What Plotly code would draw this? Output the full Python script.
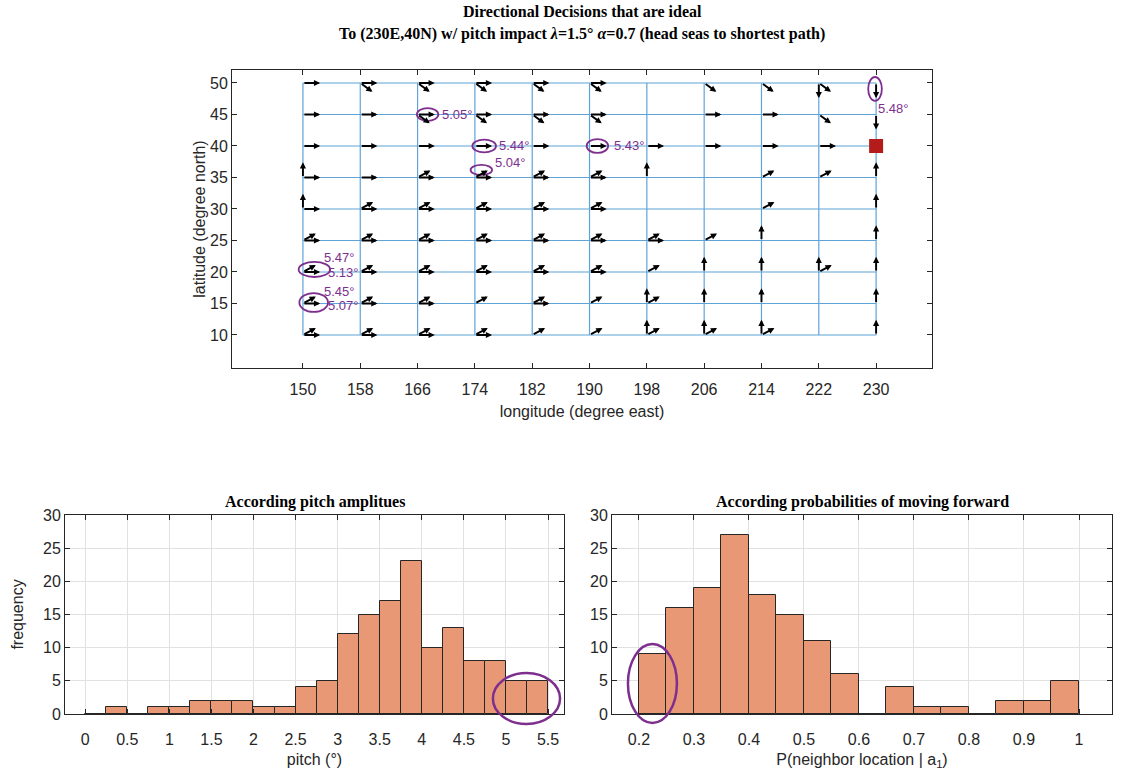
import plotly.graph_objects as go

# ---------------- data ----------------
lons = [150, 158, 166, 174, 182, 190, 198, 206, 214, 222, 230]
lats = [50, 45, 40, 35, 30, 25, 20, 15, 10]
# ideal decisions at every grid node (rows = lats, cols = lons)
decisions = [
    ["E", "E,SE", "E,SE", "E,SE", "E,SE", "E,SE", "", "SE", "SE", "S,SE", "S"],
    ["E", "E", "E,SE", "E,SE", "E,SE", "E,SE", "", "E", "E", "SE", "S"],
    ["E", "E", "E", "E", "E", "E", "E", "E", "E", "E", ""],
    ["N,E", "E", "E,NE", "E,NE", "E,NE", "E,NE", "N", "", "NE", "NE", "N"],
    ["N,E", "E,NE", "E,NE", "E,NE", "E,NE", "E,NE", "", "", "NE", "", "N"],
    ["E,NE", "E,NE", "E,NE", "E,NE", "E,NE", "E,NE", "E,NE", "NE", "N", "", "N"],
    ["E,NE", "E,NE", "E,NE", "E,NE", "E,NE", "E,NE", "NE", "N", "N", "N,NE", "N"],
    ["E,NE", "E,NE", "E,NE", "NE", "E,NE", "NE", "N,NE", "N", "N", "", "N"],
    ["E,NE", "E,NE", "E,NE", "E,NE", "NE", "NE", "N,NE", "N,NE", "N,NE", "", "N"],
]
destination = (230, 40)

# highlighted nodes: (lon, lat) and their pitch labels
highlight_nodes = [(166, 45), (174, 40), (174, 35), (190, 40), (230, 50), (150, 20), (150, 15)]
pitch_labels = [
    (166, 45, "5.05°"), (174, 40, "5.44°"), (174, 35, "5.04°"), (190, 40, "5.43°"),
    (230, 50, "5.48°"), (150, 20, "5.47°"), (150, 20, "5.13°"), (150, 15, "5.45°"),
    (150, 15, "5.07°"),
]

pitch_bin_edges = [0, 0.25, 0.5, 0.75, 1, 1.25, 1.5, 1.75, 2, 2.25, 2.5, 2.75, 3,
                   3.25, 3.5, 3.75, 4, 4.25, 4.5, 4.75, 5, 5.25, 5.5]
pitch_counts = [0, 1, 0, 1, 1, 2, 2, 2, 1, 1, 4, 5, 12, 15, 17, 23, 10, 13, 8, 8, 5, 5]

prob_bin_edges = [0.2, 0.25, 0.3, 0.35, 0.4, 0.45, 0.5, 0.55, 0.6, 0.65, 0.7, 0.75,
                  0.8, 0.85, 0.9, 0.95, 1.0]
prob_counts = [9, 16, 19, 27, 18, 15, 11, 6, 0, 4, 1, 1, 0, 2, 2, 5]

# ---------------- styles ----------------
W, H = 1125, 780
DARK = "rgb(38,38,38)"
PURPLE = "rgb(126,47,142)"
GRIDBLUE = "rgb(95,163,215)"
BARFILL = "rgb(232,152,117)"
SANS = "Liberation Sans, Arial, sans-serif"
SERIF = "Liberation Serif, Times New Roman, serif"


def px(x):
    return x / W


def py(y):
    return 1 - y / H


# arrow vectors (data units) for each heading
VEC = {"E": (2.4, 0.0), "N": (0.0, 2.4), "S": (0.0, -2.4),
       "NE": (1.8, 1.1), "SE": (1.7, -1.4)}

# label pixel offsets from their node
LABEL_SHIFT = [(22, 0), (22, 0), (18, 15), (22, 0), (0, -26), (19, 14), (23, -1), (19, 12), (23, -2)]
# ellipse (center offset in data units, half sizes in data units)
ELL = [(1.4, 0.0, 1.5, 1.0), (1.3, 0.0, 1.65, 1.0), (0.9, 1.2, 1.5, 0.8), (1.1, 0.0, 1.5, 1.1),
       (-0.15, -0.95, 0.95, 1.9), (1.6, 0.4, 2.2, 1.2), (1.5, 0.16, 2.0, 1.5)]

fig = go.Figure()

# ---- grid graph lines ----
gx, gy = [], []
for la in lats:
    gx += [lons[0], lons[-1], None]
    gy += [la, la, None]
for lo in lons:
    gx += [lo, lo, None]
    gy += [lats[-1], lats[0], None]
fig.add_trace(go.Scatter(x=gx, y=gy, mode="lines", line=dict(color=GRIDBLUE, width=1.2),
                         hoverinfo="skip", xaxis="x", yaxis="y"))

# destination marker
fig.add_trace(go.Scatter(x=[destination[0]], y=[destination[1]], mode="markers",
                         marker=dict(symbol="square", size=14, color="rgb(180,28,28)"),
                         xaxis="x", yaxis="y", hoverinfo="skip"))

annotations = []
for i, la in enumerate(lats):
    for j, lo in enumerate(lons):
        d = decisions[i][j]
        if not d:
            continue
        for h in d.split(","):
            dx, dy = VEC[h]
            annotations.append(dict(
                x=lo + dx, y=la + dy, ax=lo, ay=la, xref="x", yref="y", axref="x", ayref="y",
                text="", showarrow=True, arrowhead=2, arrowsize=0.65, arrowwidth=1.9,
                arrowcolor="black"))

for (lo, la, t), (sx, sy) in zip(pitch_labels, LABEL_SHIFT):
    annotations.append(dict(x=lo, y=la, xref="x", yref="y", text=t, showarrow=False,
                            xanchor="left", yanchor="middle", xshift=sx, yshift=sy,
                            font=dict(family=SANS, size=13, color=PURPLE)))

shapes = []
for (lo, la), (cx, cy, hx, hy) in zip(highlight_nodes, ELL):
    shapes.append(dict(type="circle", xref="x", yref="y",
                       x0=lo + cx - hx, x1=lo + cx + hx, y0=la + cy - hy, y1=la + cy + hy,
                       line=dict(color=PURPLE, width=1.8)))

# ---- histograms ----
def centers(e):
    return [(a + b) / 2 for a, b in zip(e[:-1], e[1:])]

def widths(e):
    return [b - a for a, b in zip(e[:-1], e[1:])]

fig.add_trace(go.Bar(x=centers(pitch_bin_edges), y=pitch_counts, width=widths(pitch_bin_edges),
                     marker=dict(color=BARFILL, line=dict(color=DARK, width=1)),
                     xaxis="x2", yaxis="y2", hoverinfo="skip"))
fig.add_trace(go.Bar(x=centers(prob_bin_edges), y=prob_counts, width=widths(prob_bin_edges),
                     marker=dict(color=BARFILL, line=dict(color=DARK, width=1)),
                     xaxis="x3", yaxis="y3", hoverinfo="skip"))

X2R = [-0.24, 5.69]
X3R = [0.151, 1.06]
YHR = [0, 30]

def dom(v, r):
    return (v - r[0]) / (r[1] - r[0])

# ellipses on histograms (in domain coords so they are not clipped)
for xr, xref, yref, ex0, ex1, ey0, ey1 in [
        (X2R, "x2 domain", "y2 domain", 4.845, 5.643, -1.5, 6.18),
        (X3R, "x3 domain", "y3 domain", 0.180, 0.269, -1.36, 10.55)]:
    shapes.append(dict(type="circle", xref=xref, yref=yref,
                       x0=dom(ex0, xr), x1=dom(ex1, xr), y0=dom(ey0, YHR), y1=dom(ey1, YHR),
                       line=dict(color=PURPLE, width=2.5)))

# titles
def ttl(text, x, y, size=16):
    return dict(text=text, x=px(x), y=py(y), xref="paper", yref="paper", showarrow=False,
                xanchor="center", yanchor="middle",
                font=dict(family=SERIF, size=size, color="black"))

annotations += [
    ttl("<b>Directional Decisions that are ideal</b>", 582, 12),
    ttl("<b>To (230E,40N) w/ pitch impact <i>λ</i>=1.5° <i>α</i>=0.7 (head seas to shortest path)</b>", 582, 34),
    ttl("<b>According pitch amplitues</b>", 315, 502),
    ttl("<b>According probabilities of moving forward</b>", 862, 502),
]

axis_common = dict(showline=True, linecolor=DARK, linewidth=1, mirror="ticks", ticks="inside",
                   ticklen=5, tickcolor=DARK, zeroline=False, automargin=False,
                   tickfont=dict(family=SANS, size=16, color=DARK),
                   title_font=dict(family=SANS, size=16, color=DARK))

fig.update_layout(
    width=W, height=H, margin=dict(l=0, r=0, t=0, b=0, autoexpand=False),
    paper_bgcolor="white", plot_bgcolor="white", showlegend=False, bargap=0,
    annotations=annotations, shapes=shapes,
    xaxis=dict(domain=[px(232), px(932)], range=[140.1, 237.8], tickvals=lons,
               showgrid=False, anchor="y", ticklabelstandoff=7,
               title=dict(text="longitude (degree east)", standoff=8), **axis_common),
    yaxis=dict(domain=[py(368), py(70)], range=[4.76, 52.06], tickvals=[10, 15, 20, 25, 30, 35, 40, 45, 50],
               showgrid=False, anchor="x",
               title=dict(text="latitude (degree north)", standoff=0), **axis_common),
    xaxis2=dict(domain=[px(65), px(564)], range=X2R, dtick=0.5, tick0=0, anchor="y2",
                showgrid=True, gridcolor="rgb(225,225,225)", ticklabelstandoff=11,
                title=dict(text="pitch (°)", standoff=6), **axis_common),
    yaxis2=dict(domain=[py(714), py(515)], range=YHR, dtick=5, anchor="x2",
                showgrid=True, gridcolor="rgb(225,225,225)",
                title=dict(text="frequency", standoff=15), **axis_common),
    xaxis3=dict(domain=[px(612), px(1112)], range=X3R, dtick=0.1, tick0=0, anchor="y3",
                showgrid=True, gridcolor="rgb(225,225,225)", ticklabelstandoff=11,
                title=dict(text="P(neighbor location | a<sub>1</sub>)", standoff=6), **axis_common),
    yaxis3=dict(domain=[py(714), py(515)], range=YHR, dtick=5, anchor="x3",
                showgrid=True, gridcolor="rgb(225,225,225)", **axis_common),
)

fig.write_html("out.html", config={"displayModeBar": False},
               post_script="document.body.style.margin='0px';")
